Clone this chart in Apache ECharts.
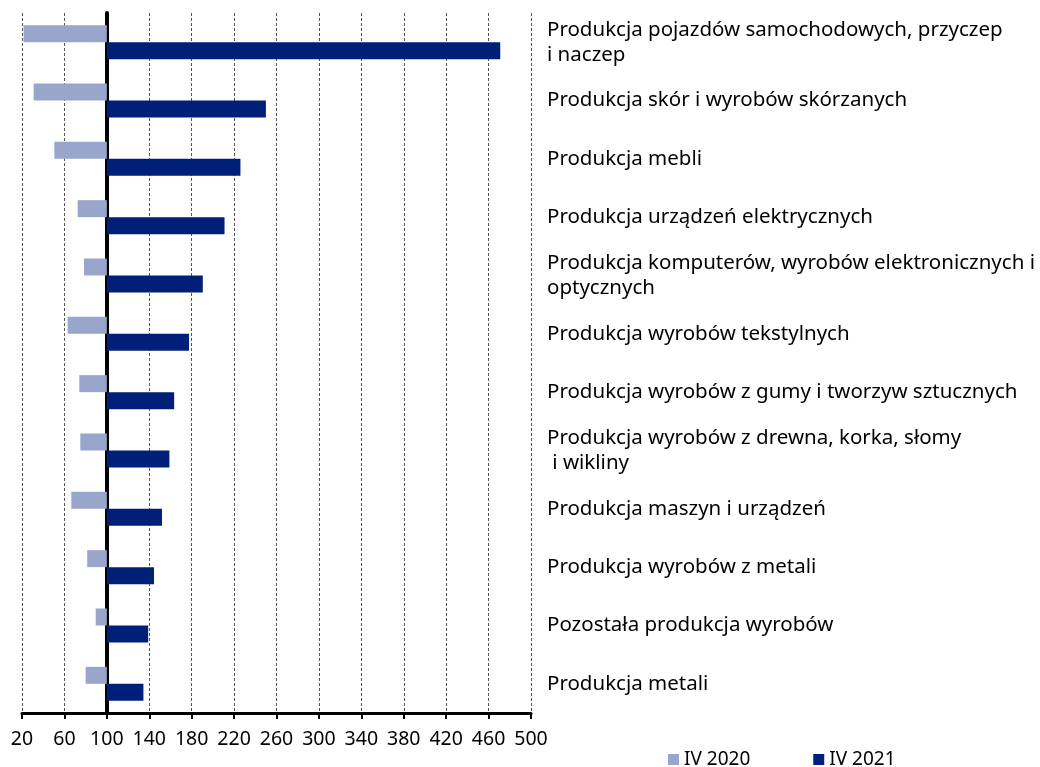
<!DOCTYPE html>
<html>
<head>
<meta charset="utf-8">
<script src="https://cdn.jsdelivr.net/npm/echarts@6/dist/echarts.min.js"></script>
<style>
html, body { margin: 0; padding: 0; background: #fff; }
#main { width: 1040px; height: 767px; }
</style>
</head>
<body>
<div id="main"></div>
<script>
// kategorie (od góry)
var categories = [
    'Produkcja pojazdów samochodowych, przyczep\ni naczep',
    'Produkcja skór i wyrobów skórzanych',
    'Produkcja mebli',
    'Produkcja urządzeń elektrycznych',
    'Produkcja komputerów, wyrobów elektronicznych i\noptycznych',
    'Produkcja wyrobów tekstylnych',
    'Produkcja wyrobów z gumy i tworzyw sztucznych',
    'Produkcja wyrobów z drewna, korka, słomy\n i wikliny',
    'Produkcja maszyn i urządzeń',
    'Produkcja wyrobów z metali',
    'Pozostała produkcja wyrobów',
    'Produkcja metali'
];
var seriesNames = ['IV 2020', 'IV 2021'];
var values2020 = [21.5, 31, 50.5, 72.5, 78.5, 63, 74, 75, 66.5, 81.5, 89.5, 80];
var values2021 = [471, 250, 226, 211, 190.5, 177.5, 163.5, 159, 152, 144.5, 139, 134.5];
var baseline = 100;

var font = 'Noto Sans';

function fromBase(arr) {
    return arr.map(function (v) { return +(v - baseline).toFixed(2); });
}

var myChart = echarts.init(document.getElementById('main'));
var option = {
    animation: false,
    textStyle: { fontFamily: font },
    grid: { left: 22, right: 509, top: 13, bottom: 54, containLabel: false },
    legend: {
        data: seriesNames,
        left: 663,
        top: 745,
        itemWidth: 11,
        itemHeight: 11,
        itemGap: 63,
        icon: 'rect',
        textStyle: { fontSize: 19, color: '#000', fontFamily: font }
    },
    xAxis: {
        type: 'value',
        min: -80,
        max: 400,
        interval: 40,
        axisLine: { show: true, onZero: false, lineStyle: { color: '#000', width: 3 } },
        axisTick: { show: true, length: 6, lineStyle: { color: '#000', width: 2 } },
        axisLabel: {
            color: '#000',
            fontSize: 19.5,
            margin: 16,
            formatter: function (v) { return v + baseline; }
        },
        splitLine: { show: true, lineStyle: { color: '#555', type: [3, 2], width: 1 } }
    },
    yAxis: [{
        type: 'category',
        data: categories,
        inverse: true,
        axisLine: { show: true, onZero: true, lineStyle: { color: '#000', width: 4 } },
        axisTick: { show: false },
        axisLabel: { show: false },
        splitLine: { show: false }
    }, {
        type: 'category',
        data: categories,
        inverse: true,
        position: 'right',
        axisLine: { show: false },
        axisTick: { show: false },
        axisLabel: {
            show: true,
            color: '#000',
            fontSize: 20.5,
            lineHeight: 25,
            margin: 16,
            align: 'left'
        },
        splitLine: { show: false }
    }],
    series: [{
        name: seriesNames[0],
        type: 'bar',
        yAxisIndex: 0,
        data: fromBase(values2020),
        barWidth: 17,
        barGap: '0%',
        itemStyle: { color: '#99a6cb' }
    }, {
        name: seriesNames[1],
        type: 'bar',
        yAxisIndex: 0,
        data: fromBase(values2021),
        barWidth: 17,
        barGap: '0%',
        itemStyle: { color: '#001f78' }
    }]
};
myChart.setOption(option);
</script>
</body>
</html>
